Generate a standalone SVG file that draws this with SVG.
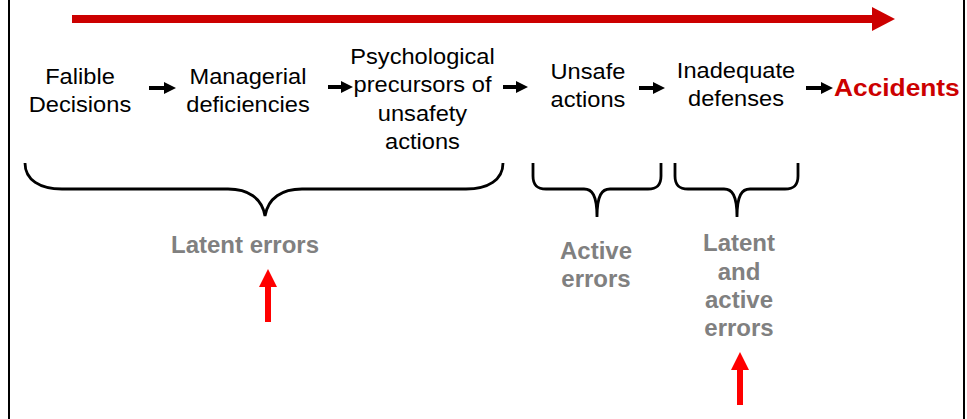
<svg xmlns="http://www.w3.org/2000/svg" width="967" height="419" viewBox="0 0 967 419">
<style>
  .main { font-family: "Liberation Sans", Arial, sans-serif; font-size: 22px; fill: #000; text-anchor: middle; }
  .gray { font-family: "Liberation Sans", Arial, sans-serif; font-size: 24px; font-weight: bold; fill: #808080; text-anchor: middle; }
  .acc { font-family: "Liberation Sans", Arial, sans-serif; font-size: 23.5px; font-weight: bold; fill: #cc0000; }
  .brace { fill: none; stroke: #000; stroke-width: 2.8; }
  .conn { stroke: #000; stroke-width: 4; marker-end: url(#ah); }
  .red { fill: #ff0000; }
</style>
<defs>
  <marker id="ah" markerUnits="userSpaceOnUse" markerWidth="12" markerHeight="12" refX="6" refY="6" orient="auto">
    <path d="M0,0 L12,6 L0,12 z" fill="#000"/>
  </marker>
</defs>
<rect x="0" y="0" width="967" height="419" fill="#fff"/>
<rect id="frame" x="9" y="-5" width="955" height="430" fill="none" stroke="#000" stroke-width="2"/>

<g id="timeline">
  <rect x="72" y="15" width="801" height="8" fill="#cc0000"/>
  <polygon points="872,7 895,19 872,31" fill="#cc0000"/>
</g>

<g id="n-falible" class="main" transform="translate(80,0) scale(1.075,1)">
  <text x="0" y="84">Falible</text>
  <text x="0" y="112">Decisions</text>
</g>
<g id="n-managerial" class="main" transform="translate(248,0) scale(1.075,1)">
  <text x="0" y="84">Managerial</text>
  <text x="0" y="112">deficiencies</text>
</g>
<g id="n-psych" class="main" transform="translate(422.5,0) scale(1.075,1)">
  <text x="0" y="64">Psychological</text>
  <text x="0" y="92.5">precursors of</text>
  <text x="0" y="121">unsafety</text>
  <text x="0" y="149.5">actions</text>
</g>
<g id="n-unsafe" class="main" transform="translate(588,0) scale(1.075,1)">
  <text x="0" y="79">Unsafe</text>
  <text x="0" y="107">actions</text>
</g>
<g id="n-inadequate" class="main" transform="translate(736,0) scale(1.075,1)">
  <text x="0" y="78.5">Inadequate</text>
  <text x="0" y="106.5">defenses</text>
</g>
<g id="n-accidents" transform="translate(834,0) scale(1.12,1)">
  <text class="acc" x="0" y="96.5">Accidents</text>
</g>

<g id="connectors">
  <line class="conn" x1="149" y1="88" x2="170" y2="88"/>
  <line class="conn" x1="328" y1="87" x2="347" y2="87"/>
  <line class="conn" x1="503" y1="87" x2="522" y2="87"/>
  <line class="conn" x1="639" y1="88" x2="659" y2="88"/>
  <line class="conn" x1="806" y1="88" x2="827" y2="88"/>
</g>

<g id="braces">
  <path class="brace" d="M25,163 C25,180 40,189 62,189 L228,189 C248,189 262,198 265,216 C268,198 282,189 302,189 L466,189 C488,189 503,180 503,163"/>
  <path class="brace" d="M533,163 L533,176 C533,185 537,189 546,189 L584,189 C592,189 597,195 597,217 C597,195 602,189 610,189 L648,189 C657,189 661,185 661,176 L661,163"/>
  <path class="brace" d="M675,163 L675,176 C675,185 679,189 688,189 L724,189 C732,189 737,195 737,217 C737,195 742,189 750,189 L785,189 C794,189 798,185 798,176 L798,163"/>
</g>

<g id="g-latent">
  <text class="gray" x="245" y="253">Latent errors</text>
</g>
<g id="g-active">
  <text class="gray" x="596" y="259">Active</text>
  <text class="gray" x="596" y="287">errors</text>
</g>
<g id="g-latent-active">
  <text class="gray" x="739" y="251">Latent</text>
  <text class="gray" x="739" y="280">and</text>
  <text class="gray" x="739" y="308">active</text>
  <text class="gray" x="739" y="336">errors</text>
</g>

<g id="up-arrow-1">
  <rect class="red" x="265" y="286" width="6" height="36"/>
  <polygon class="red" points="259,287 268,269 277,287"/>
</g>
<g id="up-arrow-2">
  <rect class="red" x="737" y="369" width="6" height="36"/>
  <polygon class="red" points="731,370 740,352 749,370"/>
</g>
</svg>
